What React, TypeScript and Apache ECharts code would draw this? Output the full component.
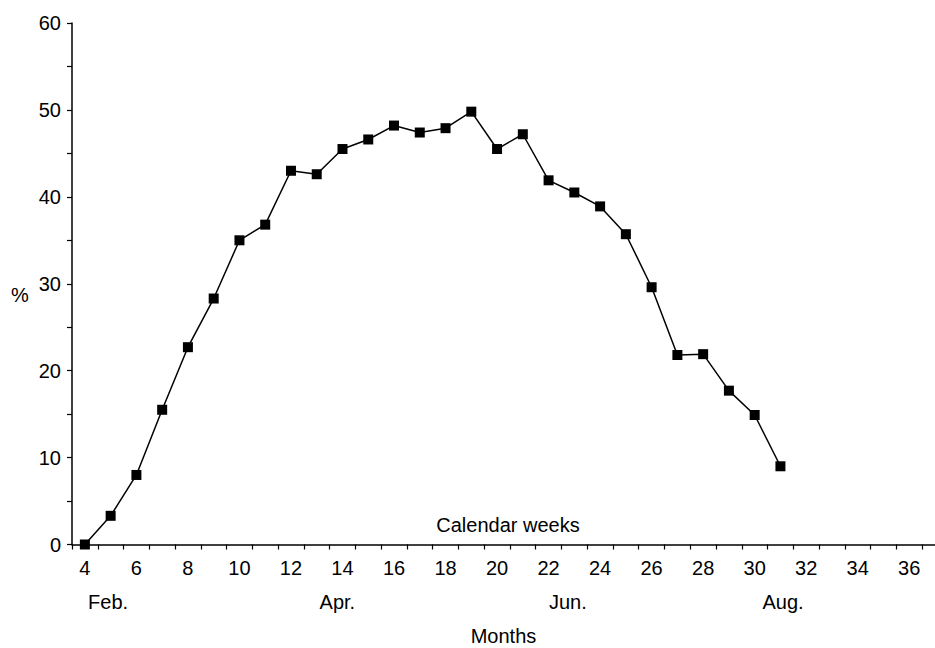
import React, { useEffect, useRef } from "react";
import * as echarts from "echarts";

const weeks = [4, 5, 6, 7, 8, 9, 10, 11, 12, 13, 14, 15, 16, 17, 18, 19, 20, 21, 22, 23, 24, 25, 26, 27, 28, 29, 30, 31];
const percents = [0, 3.3, 8.0, 15.5, 22.7, 28.3, 35.0, 36.8, 43.0, 42.6, 45.5, 46.6, 48.2, 47.4, 47.9, 49.8, 45.5, 47.2, 41.9, 40.5, 38.9, 35.7, 29.6, 21.8, 21.9, 17.7, 14.9, 9.0];
const weekTickLabels = [4, 6, 8, 10, 12, 14, 16, 18, 20, 22, 24, 26, 28, 30, 32, 34, 36];
const weekTickMarks = [3.5, 4.5, 5.5, 6.5, 7.5, 8.5, 9.5, 10.5, 11.5, 12.5, 13.5, 14.5, 15.5, 16.5, 17.5, 18.5, 19.5, 20.5, 21.5, 22.5, 23.5, 24.5, 25.5, 26.5, 27.5, 28.5, 29.5, 30.5, 31.5, 32.5, 33.5, 34.5, 35.5, 36.5];
const monthNames = ["Feb.", "Apr.", "Jun.", "Aug."];
const monthPositions = [4.9, 13.8, 22.75, 31.1];
const yTickLabels = [0, 10, 20, 30, 40, 50, 60];

const FONT = "'Liberation Sans', Arial, Helvetica, sans-serif";

export default function App() {
  const ref = useRef<HTMLDivElement>(null);
  useEffect(() => {
    if (!ref.current) return;
    const chart = echarts.init(ref.current, null, { renderer: "svg" });
    const data = weeks.map((w, i) => [w, percents[i]]);
    chart.setOption({
      animation: false,
      backgroundColor: "#ffffff",
      textStyle: { fontFamily: FONT, color: "#000" },
      grid: { left: 72, right: 0, top: 23, bottom: 103.5, containLabel: false, outerBoundsMode: "none" },
      xAxis: [
        {
          type: "value",
          min: 3.5,
          max: 37,
          position: "bottom",
          axisLine: { show: true, onZero: false, lineStyle: { color: "#000", width: 1.5 } },
          axisTick: { show: true, inside: false, length: 5, customValues: weekTickMarks, lineStyle: { color: "#000", width: 1.2 } },
          axisLabel: { customValues: weekTickLabels, fontSize: 20, color: "#000", fontFamily: FONT, margin: 13 },
          splitLine: { show: false },
        },
        {
          type: "value",
          min: 3.5,
          max: 37,
          position: "bottom",
          axisLine: { show: false },
          axisTick: { show: false },
          axisLabel: {
            customValues: monthPositions,
            fontSize: 20,
            color: "#000",
            fontFamily: FONT,
            margin: 47,
            formatter: (v: number) => {
              let best = 0;
              monthPositions.forEach((p, i) => {
                if (Math.abs(p - v) < Math.abs(monthPositions[best] - v)) best = i;
              });
              return monthNames[best];
            },
          },
          splitLine: { show: false },
          name: "Months",
          nameLocation: "middle",
          nameGap: 81,
          nameTextStyle: { fontSize: 20, color: "#000", fontFamily: FONT },
        },
      ],
      yAxis: {
        type: "value",
        min: 0,
        max: 60,
        interval: 5,
        axisLine: { show: true, lineStyle: { color: "#000", width: 1.5 } },
        axisTick: { show: true, inside: false, length: 5, lineStyle: { color: "#000", width: 1.2 } },
        axisLabel: { customValues: yTickLabels, fontSize: 20, color: "#000", fontFamily: FONT, margin: 11 },
        splitLine: { show: false },
      },
      graphic: [
        {
          type: "text",
          x: 508,
          y: 525,
          style: { text: "Calendar weeks", fontSize: 20, fontFamily: FONT, fill: "#000", textAlign: "center", textVerticalAlign: "middle" },
        },
        {
          type: "text",
          x: 20,
          y: 295,
          style: { text: "%", fontSize: 20, fontFamily: FONT, fill: "#000", textAlign: "center", textVerticalAlign: "middle" },
        },
      ],
      series: [
        {
          type: "line",
          data,
          xAxisIndex: 0,
          symbol: "rect",
          symbolSize: 10,
          itemStyle: { color: "#000" },
          lineStyle: { color: "#000", width: 1.5 },
          clip: false,
        },
      ],
    });
    return () => chart.dispose();
  }, []);
  return <div ref={ref} style={{ position: "fixed", left: 0, top: 0, width: 935, height: 648 }} />;
}
